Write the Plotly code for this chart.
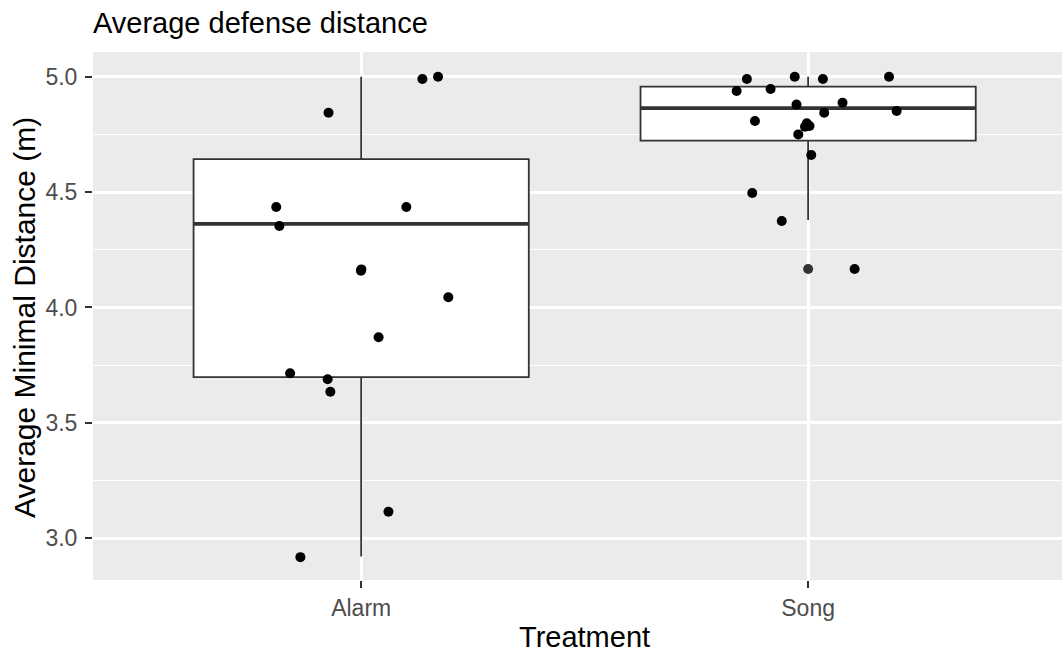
import plotly.graph_objects as go

# ---- data ----
categories = ["Alarm", "Song"]
cat_pos = [1, 2]

# box statistics
q1 = [3.698, 4.723]
median = [4.362, 4.864]
q3 = [4.643, 4.957]
lower_whisker = [2.921, 4.379]
upper_whisker = [5.00, 5.00]

# outliers (drawn at category centre)
outlier_x = [2]
outlier_y = [4.167]

# jittered observations
alarm_x = [1.137, 1.172, 0.927, 0.810, 1.101, 0.817, 0.9995, 1.0005, 1.195, 1.039,
           0.841, 0.925, 0.931, 1.061, 0.864]
alarm_y = [4.99, 5.00, 4.844, 4.435, 4.435, 4.353, 4.159, 4.165, 4.044, 3.871,
           3.715, 3.689, 3.635, 3.115, 2.918]

song_x = [1.863, 1.970, 2.033, 2.181, 1.840, 1.916, 1.974, 2.077, 2.036, 2.198,
          1.881, 1.997, 2.003, 1.993, 1.978, 2.007, 1.875, 1.941, 2.104]
song_y = [4.99, 5.00, 4.99, 5.00, 4.938, 4.947, 4.879, 4.887, 4.844, 4.851,
          4.808, 4.798, 4.786, 4.783, 4.750, 4.661, 4.496, 4.375, 4.167]

y_major = [3.0, 3.5, 4.0, 4.5, 5.0]
y_minor = [3.25, 3.75, 4.25, 4.75]

BOX_W = 0.75
FONT = "Liberation Sans, Arial, sans-serif"

fig = go.Figure()

for i, c in enumerate(categories):
    fig.add_trace(go.Box(
        x=[cat_pos[i]], q1=[q1[i]], median=[median[i]], q3=[q3[i]],
        lowerfence=[lower_whisker[i]], upperfence=[upper_whisker[i]],
        width=BOX_W, fillcolor="white", whiskerwidth=0,
        line=dict(color="#333333", width=1.8),
        boxpoints=False, showlegend=False, name=c, hoverinfo="skip"))
    fig.add_trace(go.Scatter(
        x=[cat_pos[i] - BOX_W / 2, cat_pos[i] + BOX_W / 2],
        y=[median[i], median[i]], mode="lines",
        line=dict(color="#333333", width=3.6),
        showlegend=False, hoverinfo="skip"))

fig.add_trace(go.Scatter(
    x=outlier_x, y=outlier_y, mode="markers",
    marker=dict(color="#333333", size=10, line=dict(width=0)),
    showlegend=False))

fig.add_trace(go.Scatter(
    x=alarm_x + song_x, y=alarm_y + song_y, mode="markers",
    marker=dict(color="black", size=10, line=dict(width=0)),
    showlegend=False))

fig.update_layout(
    width=1062, height=654,
    margin=dict(l=93, r=0, t=52, b=74),
    paper_bgcolor="white", plot_bgcolor="#EBEBEB",
    font=dict(family=FONT),
    title=dict(text="Average defense distance", x=0, xref="paper",
               xanchor="left", y=1 - 23 / 654, yref="container",
               yanchor="middle", font=dict(size=29, color="black")),
    xaxis=dict(range=[0.4, 2.568], tickvals=cat_pos, ticktext=categories,
               showgrid=True, gridcolor="white", gridwidth=2.5,
               zeroline=False, showline=False,
               ticks="outside", ticklen=7, tickwidth=1.5, tickcolor="#333333",
               tickfont=dict(size=23, color="#4D4D4D"), fixedrange=True),
    yaxis=dict(range=[2.819, 5.107], tickvals=y_major,
               ticktext=[f"{v:.1f}" for v in y_major],
               showgrid=True, gridcolor="white", gridwidth=2.5,
               zeroline=False, showline=False,
               ticks="outside", ticklen=7, tickwidth=1.5, tickcolor="#333333",
               tickfont=dict(size=23, color="#4D4D4D"), ticklabelstandoff=3,
               minor=dict(tickvals=y_minor, showgrid=True, gridcolor="white",
                          gridwidth=1.2, ticks=""),
               fixedrange=True),
    annotations=[
        dict(text="Treatment", xref="paper", yref="paper",
             x=(584 - 93) / 969, y=-(655 - 580) / 528, xanchor="center",
             yanchor="bottom", showarrow=False,
             font=dict(size=29, color="black")),
        dict(text="Average Minimal Distance (m)", xref="paper", yref="paper",
             x=-(93 - 24) / 969, y=(580 - 318) / 528, xanchor="center",
             yanchor="middle", textangle=-90, showarrow=False,
             font=dict(size=30, color="black")),
    ],
)

fig.write_html("out.html")
